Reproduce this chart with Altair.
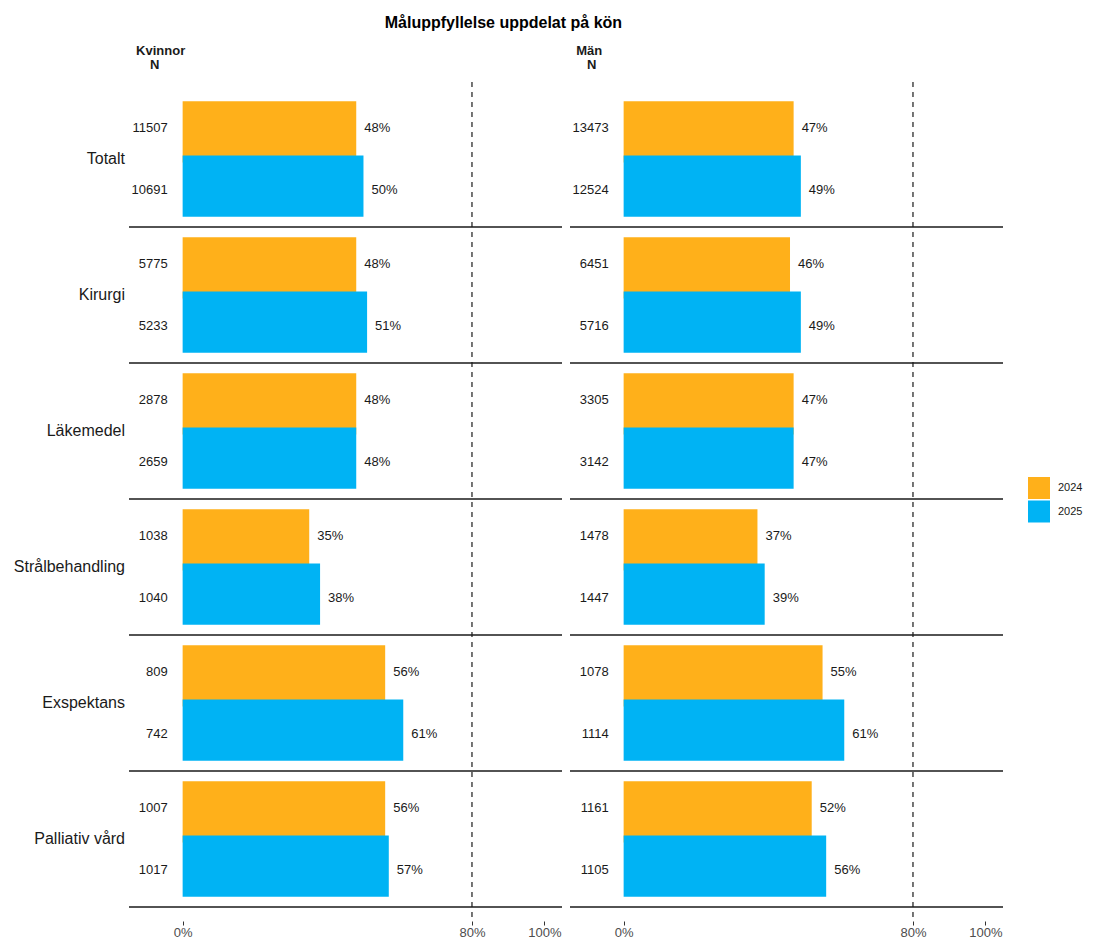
import altair as alt
import pandas as pd

# ---------------- data ----------------
categories = ["Totalt", "Kirurgi", "Läkemedel", "Strålbehandling", "Exspektans", "Palliativ vård"]
years = ["2024", "2025"]

kvinnor_pct_2024 = [48, 48, 48, 35, 56, 56]
kvinnor_pct_2025 = [50, 51, 48, 38, 61, 57]
kvinnor_n_2024 = [11507, 5775, 2878, 1038, 809, 1007]
kvinnor_n_2025 = [10691, 5233, 2659, 1040, 742, 1017]

man_pct_2024 = [47, 46, 47, 37, 55, 52]
man_pct_2025 = [49, 49, 47, 39, 61, 56]
man_n_2024 = [13473, 6451, 3305, 1478, 1078, 1161]
man_n_2025 = [12524, 5716, 3142, 1447, 1114, 1105]

x_ticks = [0, 80, 100]
target = 80
colors = ["#FFB01A", "#00B3F4"]

# ---------------- layout ----------------
W, H = 433, 839
X_DOMAIN = [-14.83, 104.89]
Y_DOMAIN = [-0.066, 6.103]
BAR_WIDTH = 0.45
BAR_DODGE = 0.8
LABEL_DODGE = 0.9
FONT = "Liberation Sans"

xs = alt.Scale(domain=X_DOMAIN, nice=False, zero=False)
ys = alt.Scale(domain=Y_DOMAIN, reverse=True, nice=False, zero=False)
no_view = alt.ViewBackground(stroke="transparent", strokeWidth=0)


def build_df(p24, p25, n24, n25):
    rows = []
    for j, (yr, pcts, ns) in enumerate([(years[0], p24, n24), (years[1], p25, n25)]):
        for i, cat in enumerate(categories):
            c = i + 0.5 + (j - 0.5) * BAR_DODGE / 2
            rows.append({
                "category": cat,
                "year": yr,
                "pct": pcts[i],
                "n": ns[i],
                "yb0": c - BAR_WIDTH / 2,
                "yb1": c + BAR_WIDTH / 2,
                "ly": i + 0.5 + (j - 0.5) * LABEL_DODGE / 2,
                "label": f"{pcts[i]}%",
            })
    return pd.DataFrame(rows)


def panel(sex, p24, p25, n24, n25, show_cat, head_dx, n_head_dx):
    df = build_df(p24, p25, n24, n25)
    base = alt.Chart(df)

    bars = base.mark_rect().encode(
        x=alt.X("pct:Q", scale=xs,
                axis=alt.Axis(values=x_ticks, labelExpr="datum.value + '%'", domain=False,
                              grid=False, ticks=True, tickSize=4, tickColor="#333333",
                              tickWidth=1, labelColor="#4d4d4d", labelFontSize=13,
                              labelFont=FONT, labelPadding=1, labelFlush=False, title=None)),
        x2=alt.datum(0),
        y=alt.Y("yb0:Q", scale=ys, axis=None),
        y2="yb1:Q",
        color=alt.Color("year:N", scale=alt.Scale(domain=years, range=colors),
                        legend=alt.Legend(title=None, orient="none", legendX=899, legendY=395,
                                          symbolType="square", symbolSize=484,
                                          symbolStrokeWidth=0, labelFontSize=11,
                                          labelFont=FONT, labelOffset=8, rowPadding=1.5,
                                          labelColor="#1a1a1a")),
    )

    pct_text = base.mark_text(align="left", baseline="middle", dx=8, fontSize=13,
                              font=FONT, color="#1a1a1a").encode(
        x=alt.X("pct:Q", scale=xs),
        y=alt.Y("ly:Q", scale=ys, axis=None),
        text="label:N",
    )

    n_text = base.mark_text(align="right", baseline="middle", dx=-15, fontSize=13,
                            font=FONT, color="#1a1a1a").encode(
        x=alt.X(datum=0, scale=xs),
        y=alt.Y("ly:Q", scale=ys, axis=None),
        text="n:N",
    )

    sep_df = pd.DataFrame({"y": list(range(1, len(categories) + 1))})
    seps = alt.Chart(sep_df).mark_rule(color="#1a1a1a", strokeWidth=1.6).encode(
        y=alt.Y("y:Q", scale=ys, axis=None),
        x=alt.value(0),
        x2=alt.value(W),
    )

    target_rule = alt.Chart(pd.DataFrame({"t": [target]})).mark_rule(
        color="#1a1a1a", strokeWidth=1.2, strokeDash=[5, 5]).encode(
        x=alt.X("t:Q", scale=xs),
        y=alt.value(0),
        y2=alt.value(H),
    )

    head1 = alt.Chart(pd.DataFrame({"h": [sex]})).mark_text(
        align="center", baseline="middle", dx=head_dx, fontSize=13, fontWeight="bold",
        font=FONT, color="#1a1a1a").encode(
        x=alt.X(datum=0, scale=xs),
        y=alt.Y(datum=-0.294, scale=ys, axis=None),
        text="h:N",
    )
    head2 = alt.Chart(pd.DataFrame({"h": ["N"]})).mark_text(
        align="center", baseline="middle", dx=n_head_dx, fontSize=13, fontWeight="bold",
        font=FONT, color="#1a1a1a").encode(
        x=alt.X(datum=0, scale=xs),
        y=alt.Y(datum=-0.19, scale=ys, axis=None),
        text="h:N",
    )

    layers = [bars, target_rule, seps, pct_text, n_text, head1, head2]

    if show_cat:
        cat_df = pd.DataFrame({"category": categories,
                               "cy": [i + 0.5 for i in range(len(categories))]})
        cat_text = alt.Chart(cat_df).mark_text(
            align="right", baseline="middle", fontSize=16, font=FONT, color="#1a1a1a").encode(
            x=alt.value(-4),
            y=alt.Y("cy:Q", scale=ys, axis=None),
            text="category:N",
        )
        layers.append(cat_text)

    return alt.layer(*layers).properties(width=W, height=H, view=no_view)


left = panel("Kvinnor", kvinnor_pct_2024, kvinnor_pct_2025, kvinnor_n_2024, kvinnor_n_2025,
             True, -22, -28)
right = panel("Män", man_pct_2024, man_pct_2025, man_n_2024, man_n_2025,
              False, -34.5, -32)

chart = alt.hconcat(left, right, spacing=6).properties(
    title=alt.TitleParams("Måluppfyllelse uppdelat på kön", fontSize=16, fontWeight="bold",
                          font=FONT, color="#000000", anchor="middle", offset=14, dx=-45),
    padding={"left": 13, "top": 14, "right": 5, "bottom": 0},
).configure_view(stroke="transparent", strokeWidth=0).configure(font=FONT)

chart.save("out.html", embed_options={"renderer": "svg", "actions": False})
